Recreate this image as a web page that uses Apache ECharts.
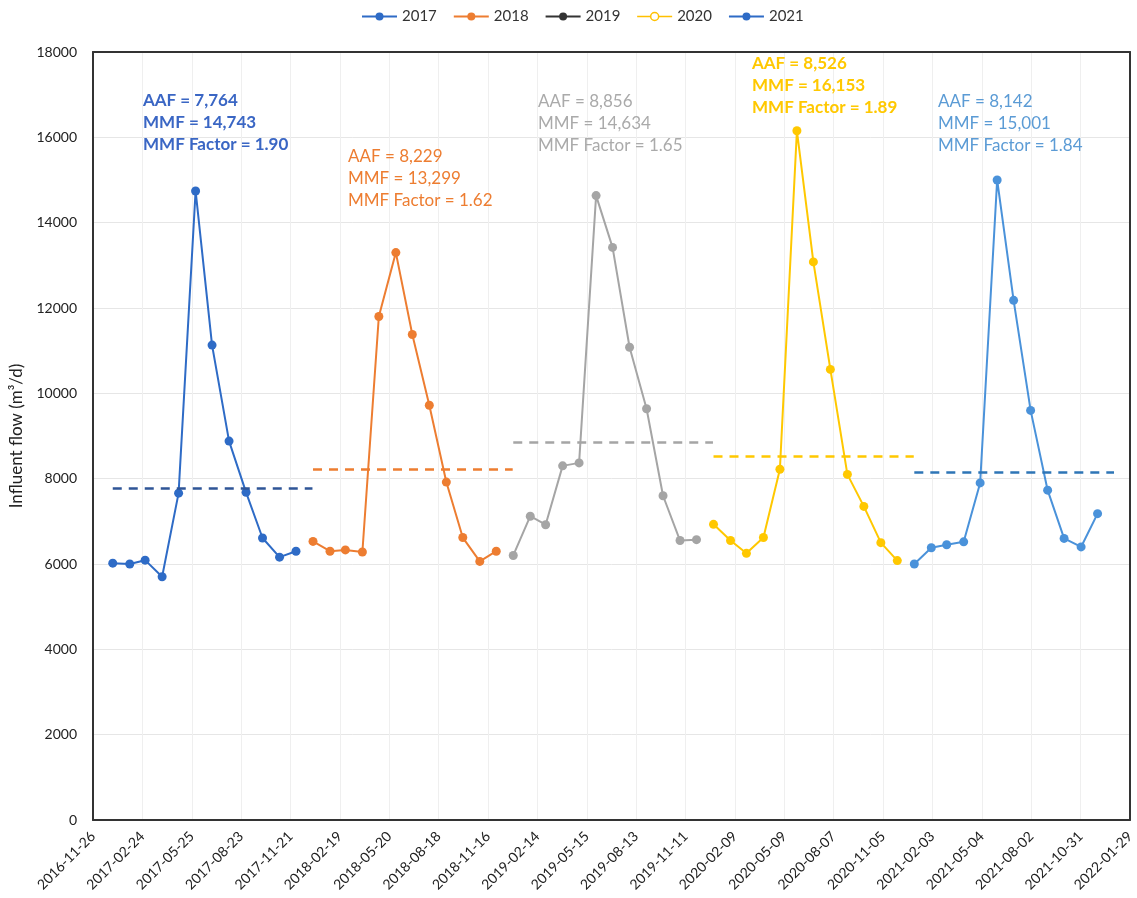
<!DOCTYPE html>
<html>
<head>
<meta charset="utf-8">
<script src="https://cdn.jsdelivr.net/npm/echarts@6/dist/echarts.min.js"></script>
<style>
html,body{margin:0;padding:0;background:#fff;}
#chart{width:1137px;height:898px;}
</style>
</head>
<body>
<div id="chart"></div>
<script>
// ---- data ----
const years = ['2017', '2018', '2019', '2020', '2021'];
const months = ['01','02','03','04','05','06','07','08','09','10','11','12'];
const flow2017 = [6020, 6000, 6090, 5700, 7660, 14743, 11130, 8880, 7680, 6610, 6160, 6300];
const flow2018 = [6530, 6300, 6330, 6280, 11800, 13299, 11380, 9720, 7920, 6620, 6060, 6300];
const flow2019 = [6200, 7120, 6920, 8300, 8370, 14634, 13420, 11080, 9640, 7600, 6550, 6570];
const flow2020 = [6930, 6550, 6250, 6620, 8220, 16153, 13080, 10560, 8100, 7350, 6500, 6080];
const flow2021 = [6000, 6380, 6450, 6520, 7900, 15001, 12180, 9600, 7730, 6600, 6400, 7180];
const aaf = [7764, 8229, 8856, 8526, 8142];
const mmf = [14743, 13299, 14634, 16153, 15001];
const mmfFactor = ['1.90', '1.62', '1.65', '1.89', '1.84'];
const axisStart = '2016-11-26';
const tickDays = 90;
const tickCount = 21;
const yTicks = [0, 2000, 4000, 6000, 8000, 10000, 12000, 14000, 16000, 18000];

// ---- helpers ----
const DAY = 86400000;
function parseD(s){ const p = s.split('-').map(Number); return Date.UTC(p[0], p[1]-1, p[2]); }
const t0 = parseD(axisStart);
function dayOf(s){ return Math.round((parseD(s) - t0) / DAY); }
function labelOf(d){
  const dt = new Date(t0 + d * DAY);
  const m = String(dt.getUTCMonth()+1).padStart(2,'0');
  const dd = String(dt.getUTCDate()).padStart(2,'0');
  return dt.getUTCFullYear() + '-' + m + '-' + dd;
}
function fmt(n){ return n.toLocaleString('en-US'); }

const flows = [flow2017, flow2018, flow2019, flow2020, flow2021];
const lineColors = ['#2E6BC6', '#ED7D31', '#A5A5A5', '#FFC800', '#4A92DA'];
const dashColors = ['#2F5597', '#ED7D31', '#A5A5A5', '#FFC800', '#2E75B6'];
const textColors = ['#3A66C4', '#ED7D31', '#AAAAAA', '#FFC800', '#5B9BD5'];
const legendColors = ['#2E6BC6', '#ED7D31', '#333333', '#FFC000', '#2E6BC6'];

const series = years.map((y, i) => ({
  name: y,
  type: 'line',
  xAxisIndex: 0,
  yAxisIndex: 0,
  data: flows[i].map((v, k) => [dayOf(y + '-' + months[k] + '-01'), v]),
  symbol: 'circle',
  symbolSize: 9,
  lineStyle: { width: 2, color: lineColors[i] },
  itemStyle: { color: lineColors[i] },
  z: 3,
  markLine: {
    silent: true,
    symbol: ['none', 'none'],
    label: { show: false },
    lineStyle: { type: [9, 7], width: 2.5, color: dashColors[i] },
    data: [[
      { coord: [dayOf(y + '-01-01'), aaf[i]] },
      { coord: [dayOf(y + '-12-31'), aaf[i]] }
    ]]
  }
}));

const annoPos = [[143, 90, true], [348, 146, false], [538, 91, false], [752, 53, true], [938, 91, false]];
const graphics = years.map((y, i) => ({
  type: 'text',
  left: annoPos[i][0],
  top: annoPos[i][1],
  z: 10,
  style: {
    text: 'AAF = ' + fmt(aaf[i]) + '\nMMF = ' + fmt(mmf[i]) + '\nMMF Factor = ' + mmfFactor[i],
    fill: textColors[i],
    font: (annoPos[i][2] ? 'bold ' : '') + '17px Lato, "Open Sans", sans-serif',
    lineHeight: 22
  }
}));

const borderLine = { show: true, onZero: false, lineStyle: { color: '#333', width: 2 } };
const xRange = { type: 'value', min: 0, max: tickDays * tickCount, interval: tickDays };
const yRange = { type: 'value', min: yTicks[0], max: yTicks[yTicks.length - 1], interval: 2000 };

const chart = echarts.init(document.getElementById('chart'));
chart.setOption({
  animation: false,
  backgroundColor: '#fff',
  textStyle: { fontFamily: 'Lato, "Open Sans", sans-serif' },
  legend: {
    top: 4,
    left: 356,
    itemWidth: 35,
    itemHeight: 10,
    itemGap: 16,
    textStyle: { fontSize: 15, color: '#333' },
    data: years.map((y, i) => i === 3 ? {
      name: y,
      itemStyle: { color: '#fff', borderColor: legendColors[i], borderWidth: 1.5 },
      lineStyle: { color: legendColors[i], width: 1.5 }
    } : {
      name: y,
      itemStyle: { color: legendColors[i] },
      lineStyle: { color: legendColors[i], width: 2 }
    })
  },
  grid: { left: 93, right: 4, top: 52, bottom: 78 },
  xAxis: [Object.assign({}, xRange, {
    position: 'bottom',
    axisLine: borderLine,
    axisTick: { show: false },
    splitLine: { show: true, lineStyle: { color: '#efefef', width: 1 } },
    axisLabel: { rotate: 45, margin: 14, fontSize: 14, color: '#222', formatter: v => labelOf(v) }
  }), Object.assign({}, xRange, {
    position: 'top',
    axisLine: borderLine,
    axisTick: { show: false },
    splitLine: { show: false },
    axisLabel: { show: false }
  })],
  yAxis: [Object.assign({}, yRange, {
    position: 'left',
    name: 'Influent flow (m³/d)',
    nameLocation: 'middle',
    nameGap: 60,
    nameTextStyle: { fontSize: 17, color: '#222' },
    axisLine: borderLine,
    axisTick: { show: false },
    splitLine: { show: true, lineStyle: { color: '#e6e6e6', width: 1 } },
    axisLabel: { fontSize: 14, color: '#222', margin: 16, formatter: v => String(v) }
  }), Object.assign({}, yRange, {
    position: 'right',
    axisLine: borderLine,
    axisTick: { show: false },
    splitLine: { show: false },
    axisLabel: { show: false }
  })],
  graphic: graphics,
  series: series
});
</script>
</body>
</html>
